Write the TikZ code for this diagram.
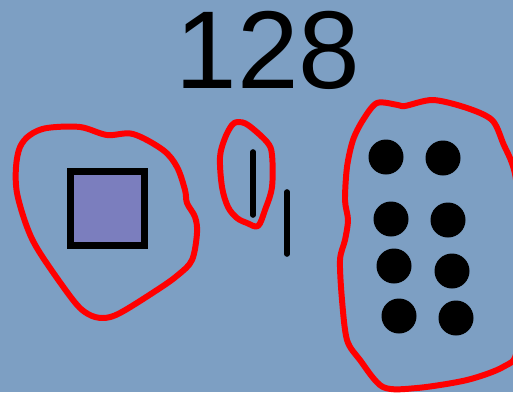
\documentclass[tikz,border=0pt]{standalone}
\usepackage{fontspec}
\setmainfont{Liberation Sans}
\definecolor{slateback}{RGB}{125,159,195}
\definecolor{squarefill}{RGB}{123,126,190}
\definecolor{loopred}{RGB}{255,0,0}

\begin{document}
\begin{tikzpicture}[
    x=0.02cm, y=-0.02cm,
    redloop/.style={draw=loopred, line width=3.4pt, line join=round},
    tally/.style={draw=black, line width=3.2pt, line cap=round},
    dot/.style={fill=black}
]

% background and frame
\fill[slateback] (0,0) rectangle (513,392);
\useasboundingbox (0,0) rectangle (513,392);
\clip (0,0) rectangle (513,392);

% number
\node[font=\fontsize{63}{70}\selectfont] (number) at (268,50) {128};

% hundreds: one square
\draw[line width=3.6pt, fill=squarefill] (70.5,171.5) rectangle (144.5,245.5);
\draw[redloop] plot[smooth cycle, tension=0.55] coordinates {
  (47,128) (80,127) (107,135) (133,134) (163,150) (177,167) (185,190)
  (187,203) (195,217) (197,233) (192,260) (178,275) (157,290) (120,313)
  (103,318) (88,314) (73,300) (40,253) (27,227) (17,193) (16,167)
  (20,147) (30,135)};

% tens: two sticks
\draw[tally] (253,152) -- (253,215);
\draw[tally] (287,192) -- (287,254);
\draw[redloop] plot[smooth cycle, tension=0.55] coordinates {
  (238,122) (248,125) (267,142) (272,155) (272,187) (265,210) (258,226)
  (247,223) (237,218) (228,207) (222,187) (220,157) (225,138) (232,125)};

% ones: eight dots
\foreach \cx/\cy in {386/157, 443/158, 391/219, 448/220,
                     394/266, 452/271, 399/316, 456/318}
  \fill[dot] (\cx,\cy) circle (17.5);
\draw[redloop] plot[smooth cycle, tension=0.5] coordinates {
  (377,103) (398,105) (405,106) (433,100) (467,108) (492,120) (503,143)
  (516,180) (518,270) (517,350) (503,367) (467,380) (417,388) (383,387)
  (360,360) (347,340) (342,300) (340,260) (345,240) (348,220) (345,200)
  (347,167) (353,140) (363,120)};

\end{tikzpicture}
\end{document}
